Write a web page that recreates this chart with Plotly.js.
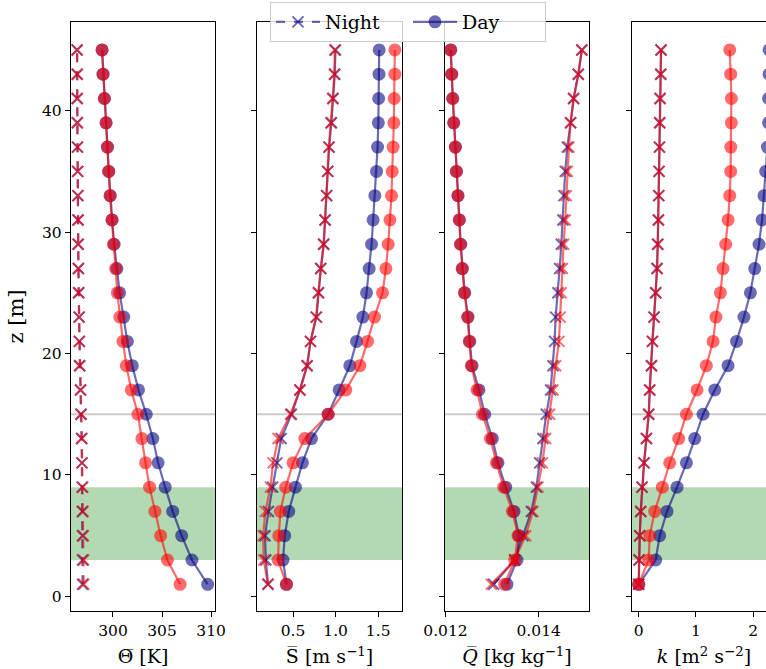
<!DOCTYPE html>
<html>
<head>
<meta charset="utf-8">
<script src="https://cdn.plot.ly/plotly-3.0.1.min.js"></script>
<style>
html, body { margin: 0; padding: 0; overflow: hidden; background: #fff; }
#chart { width: 800px; height: 669px; }
</style>
</head>
<body>
<div id="chart"></div>
<script>
// Heights z [m]
const z = [1,3,5,7,9,11,13,15,17,19,21,23,25,27,29,31,33,35,37,39,41,43,45];

// Potential temperature Theta [K]
const thetaNightBlue = [296.90,296.90,296.89,296.88,296.86,296.83,296.80,296.74,296.69,296.60,296.57,296.55,296.50,296.47,296.45,296.44,296.42,296.40,296.38,296.36,296.35,296.35,296.34];
const thetaNightRed  = [297.02,297.00,296.98,296.95,296.91,296.86,296.82,296.75,296.69,296.60,296.57,296.55,296.50,296.47,296.45,296.44,296.42,296.40,296.38,296.36,296.35,296.35,296.34];
const thetaDayBlue   = [309.65,308.05,307.00,306.09,305.32,304.60,304.06,303.39,302.60,301.97,301.46,301.10,300.68,300.40,300.12,299.92,299.72,299.57,299.44,299.30,299.13,298.99,298.89];
const thetaDayRed    = [306.84,305.55,304.86,304.27,303.73,303.32,302.95,302.54,301.87,301.36,301.02,300.70,300.44,300.27,300.05,299.88,299.70,299.56,299.43,299.29,299.12,298.98,298.88];

// Wind speed S [m s-1]
const sNightBlue = [0.205,0.180,0.170,0.210,0.260,0.310,0.360,0.480,0.580,0.665,0.705,0.775,0.800,0.826,0.861,0.877,0.896,0.908,0.924,0.950,0.970,0.990,0.998];
const sNightRed  = [0.205,0.155,0.147,0.175,0.234,0.265,0.324,0.470,0.580,0.665,0.705,0.770,0.796,0.824,0.858,0.875,0.893,0.905,0.920,0.945,0.965,0.985,0.990];
const sDayBlue   = [0.422,0.382,0.402,0.449,0.528,0.610,0.716,0.912,1.041,1.167,1.246,1.320,1.363,1.394,1.422,1.441,1.461,1.481,1.493,1.502,1.506,1.510,1.512];
const sDayRed    = [0.422,0.324,0.332,0.351,0.414,0.500,0.638,0.912,1.120,1.285,1.375,1.457,1.551,1.591,1.618,1.638,1.657,1.665,1.676,1.684,1.688,1.696,1.696];

// Specific humidity Q [kg kg-1]
const qNightBlue = [0.013035,0.013485,0.013663,0.013843,0.013950,0.014021,0.014091,0.014164,0.014256,0.014306,0.014342,0.014364,0.014413,0.014450,0.014486,0.014520,0.014541,0.014571,0.014614,0.014685,0.014750,0.014850,0.014927];
const qNightRed  = [0.012986,0.013485,0.013721,0.013877,0.013985,0.014079,0.014149,0.014235,0.014306,0.014364,0.014434,0.014460,0.014480,0.014507,0.014535,0.014570,0.014593,0.014614,0.014649,0.014685,0.014750,0.014850,0.014927];
const qDayBlue   = [0.013320,0.013535,0.013577,0.013470,0.013292,0.013127,0.013007,0.012842,0.012720,0.012570,0.012521,0.012484,0.012414,0.012364,0.012328,0.012300,0.012270,0.012236,0.012214,0.012178,0.012156,0.012135,0.012114];
const qDayRed    = [0.013270,0.013485,0.013556,0.013436,0.013249,0.013093,0.012964,0.012793,0.012677,0.012555,0.012510,0.012475,0.012405,0.012358,0.012322,0.012295,0.012266,0.012233,0.012211,0.012175,0.012154,0.012133,0.012112];

// Turbulent kinetic energy k [m2 s-2]
const kNightBlue = [0.000,0.006,0.017,0.035,0.058,0.093,0.134,0.175,0.192,0.222,0.239,0.268,0.297,0.320,0.332,0.344,0.350,0.355,0.362,0.367,0.373,0.385,0.390];
const kNightRed  = [0.000,0.008,0.020,0.038,0.060,0.095,0.136,0.177,0.194,0.224,0.241,0.270,0.299,0.322,0.334,0.346,0.352,0.357,0.364,0.369,0.375,0.387,0.392];
const kDayBlue   = [0.000,0.297,0.367,0.495,0.670,0.834,0.979,1.125,1.329,1.562,1.710,1.840,1.952,2.028,2.103,2.156,2.190,2.220,2.250,2.270,2.270,2.280,2.280];
const kDayRed    = [0.000,0.175,0.192,0.280,0.414,0.542,0.699,0.834,1.020,1.183,1.300,1.350,1.428,1.474,1.521,1.562,1.591,1.608,1.610,1.620,1.620,1.608,1.591];

// Tick labels
const yTicks = [0,10,20,30,40];
const x1Ticks = [300,305,310];
const x2Ticks = [0.5,1.0,1.5];
const x2Text = ['0.5','1.0','1.5'];
const x3Ticks = [0.012,0.014];
const x3Text = ['0.012','0.014'];
const x4Ticks = [0,1,2];

const seriesNames = ['Night','Day'];

const BLUE = 'rgba(0,0,128,0.58)';
const RED = 'rgba(255,0,0,0.58)';
const FONT = '"DejaVu Serif", "Liberation Serif", serif';

function nightTrace(x, color, xa, ya, dash, legend) {
  return {
    x: x, y: z, xaxis: xa, yaxis: ya, type: 'scatter', mode: 'lines+markers',
    name: seriesNames[0], showlegend: !!legend, legendrank: 1,
    line: {color: color, width: 2.2, dash: dash},
    marker: {symbol: 'x-thin', size: 11, color: color, line: {color: color, width: 2}}
  };
}
function dayTrace(x, color, xa, ya, legend) {
  return {
    x: x, y: z, xaxis: xa, yaxis: ya, type: 'scatter', mode: 'lines+markers',
    name: seriesNames[1], showlegend: !!legend, legendrank: 2,
    line: {color: color, width: 2.2},
    marker: {symbol: 'circle', size: 13, color: color, line: {width: 0}}
  };
}

const data = [
  nightTrace(thetaNightBlue, BLUE, 'x', 'y', 'dash', true),
  dayTrace(thetaDayBlue, BLUE, 'x', 'y', true),
  nightTrace(thetaNightRed, RED, 'x', 'y', 'dash', false),
  dayTrace(thetaDayRed, RED, 'x', 'y', false),

  nightTrace(sNightBlue, BLUE, 'x2', 'y2', 'solid', false),
  dayTrace(sDayBlue, BLUE, 'x2', 'y2', false),
  nightTrace(sNightRed, RED, 'x2', 'y2', 'solid', false),
  dayTrace(sDayRed, RED, 'x2', 'y2', false),

  nightTrace(qNightBlue, BLUE, 'x3', 'y3', 'solid', false),
  dayTrace(qDayBlue, BLUE, 'x3', 'y3', false),
  nightTrace(qNightRed, RED, 'x3', 'y3', 'solid', false),
  dayTrace(qDayRed, RED, 'x3', 'y3', false),

  nightTrace(kNightBlue, BLUE, 'x4', 'y4', 'solid', false),
  dayTrace(kDayBlue, BLUE, 'x4', 'y4', false),
  nightTrace(kNightRed, RED, 'x4', 'y4', 'solid', false),
  dayTrace(kDayRed, RED, 'x4', 'y4', false)
];

const W = 800, H = 669;
const panels = [[71,215],[257,402],[445,589],[632,776]];
const yDom = [1 - 611/H, 1 - 22/H];

function xAxis(i, range, tickvals, ticktext, title) {
  return {
    domain: [panels[i][0]/W, panels[i][1]/W],
    anchor: i === 0 ? 'y' : 'y' + (i+1),
    range: range, autorange: false,
    tickmode: 'array', tickvals: tickvals, ticktext: ticktext,
    ticks: 'outside', ticklen: 5, tickwidth: 1, tickcolor: '#000',
    showline: true, mirror: true, linecolor: '#000', linewidth: 1.2,
    showgrid: false, zeroline: false,
    tickfont: {family: FONT, size: 15.5, color: '#000'},
    title: {text: title, font: {family: FONT, size: 19, color: '#000'}, standoff: 11}
  };
}
function yAxis(i) {
  const ax = {
    domain: yDom,
    anchor: i === 0 ? 'x' : 'x' + (i+1),
    range: [-1.2, 47.3], autorange: false,
    tickmode: 'array', tickvals: yTicks,
    ticks: 'outside', ticklen: 5, tickwidth: 1, tickcolor: '#000',
    showline: true, mirror: true, linecolor: '#000', linewidth: 1.2,
    showgrid: false, zeroline: false,
    showticklabels: i === 0,
    tickfont: {family: FONT, size: 15.5, color: '#000'}
  };
  if (i === 0) {
    ax.title = {text: 'z [m]', font: {family: FONT, size: 21, color: '#000'}, standoff: 12};
  } else {
    ax.matches = 'y';
  }
  return ax;
}

const shapes = [];
['x','x2','x3','x4'].forEach(function(xa, i) {
  const ya = i === 0 ? 'y' : 'y' + (i+1);
  shapes.push({type: 'rect', xref: xa + ' domain', yref: ya, x0: 0, x1: 1, y0: 3, y1: 9,
               fillcolor: 'rgba(0,128,0,0.3)', line: {width: 0}, layer: 'below'});
  shapes.push({type: 'line', xref: xa + ' domain', yref: ya, x0: 0, x1: 1, y0: 15, y1: 15,
               line: {color: 'rgba(190,190,190,0.8)', width: 2}, layer: 'below'});
});

const layout = {
  width: W, height: H,
  margin: {l: 0, r: 0, t: 0, b: 0},
  paper_bgcolor: '#fff', plot_bgcolor: '#fff',
  font: {family: FONT, color: '#000'},
  showlegend: true,
  legend: {
    orientation: 'h', x: 270/W, xanchor: 'left', y: 1 - 2/H, yanchor: 'top',
    bgcolor: 'rgba(255,255,255,0.8)', bordercolor: 'rgba(204,204,204,1)', borderwidth: 1,
    font: {family: FONT, size: 19, color: '#000'}, traceorder: 'normal',
    itemwidth: 44, entrywidth: 78, entrywidthmode: 'pixels'
  },
  xaxis: xAxis(0, [295.72, 310.4], x1Ticks, x1Ticks.map(String), '\u0398\u0305 [K]'),
  xaxis2: xAxis(1, [0.076, 1.78], x2Ticks, x2Text, 'S\u0305 [m s<sup>\u22121</sup>]'),
  xaxis3: xAxis(2, [0.01199, 0.01508], x3Ticks, x3Text, '<i>Q\u0305</i> [kg kg<sup>\u22121</sup>]'),
  xaxis4: xAxis(3, [-0.117, 2.40], x4Ticks, x4Ticks.map(String), '<i>k</i> [m<sup>2</sup> s<sup>\u22122</sup>]'),
  yaxis: yAxis(0), yaxis2: yAxis(1), yaxis3: yAxis(2), yaxis4: yAxis(3),
  shapes: shapes
};

Plotly.newPlot('chart', data, layout, {displayModeBar: false, staticPlot: true});
</script>
</body>
</html>
